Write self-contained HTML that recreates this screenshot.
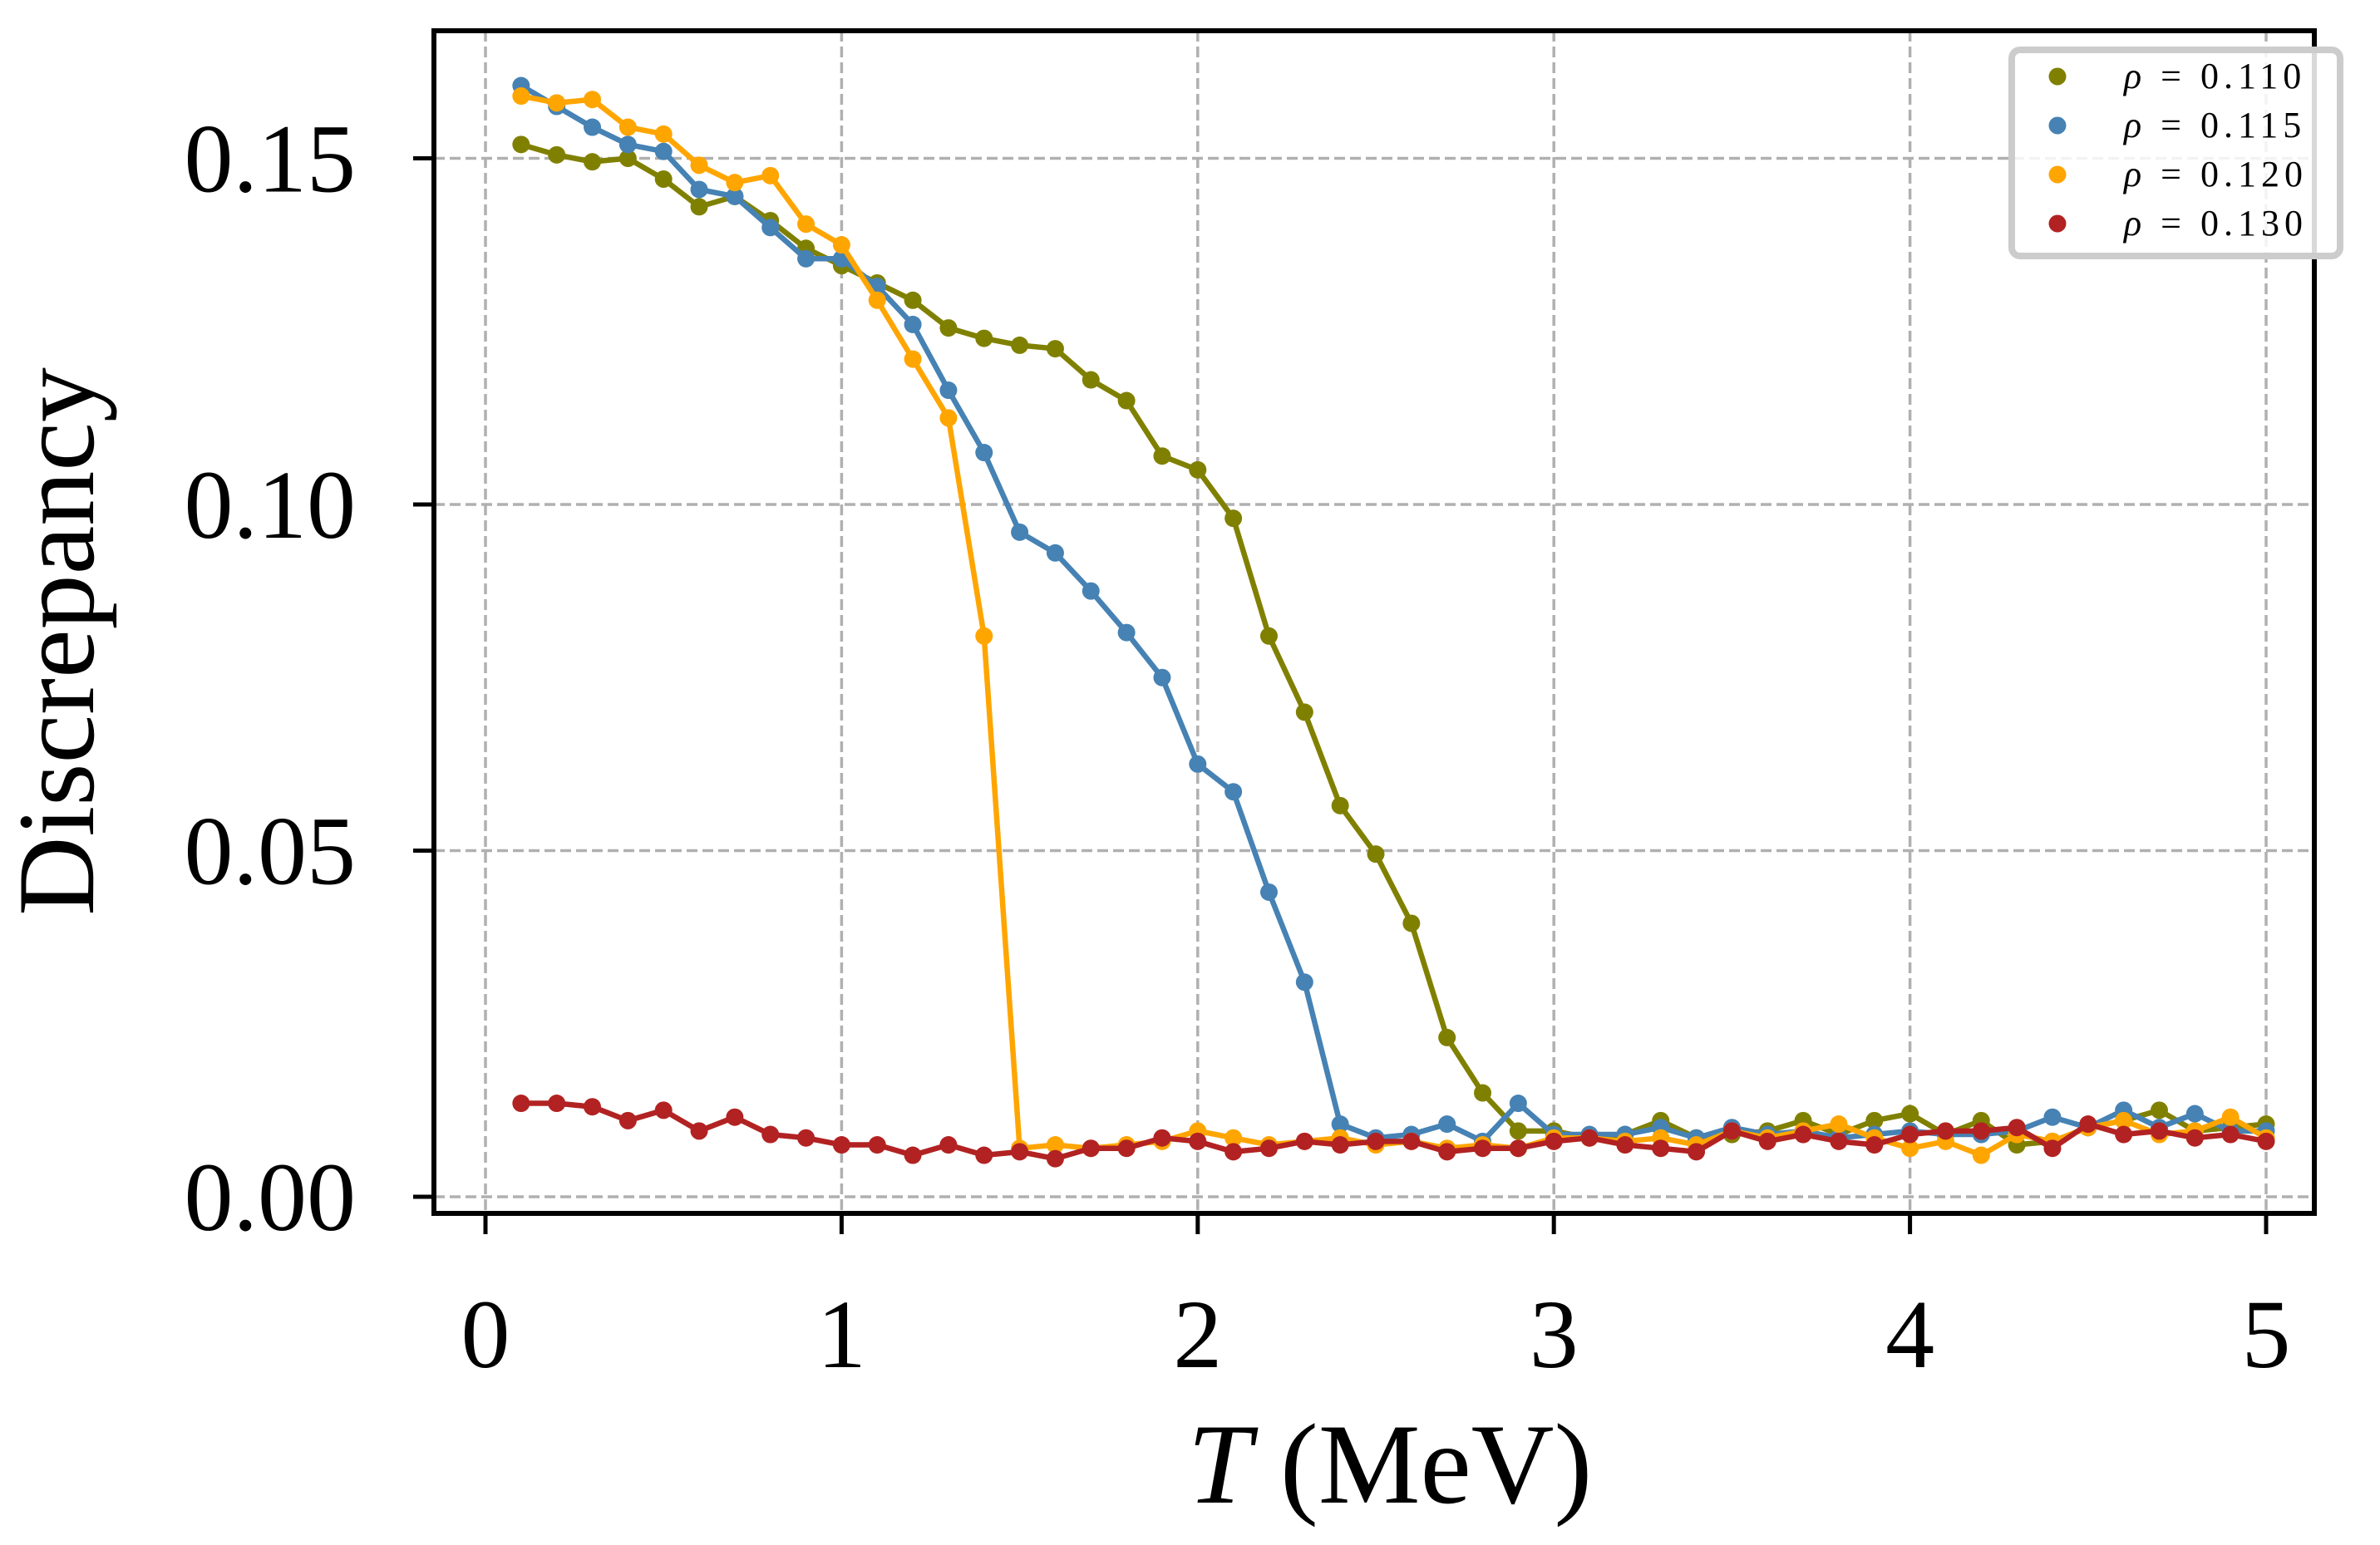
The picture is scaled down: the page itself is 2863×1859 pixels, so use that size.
<!DOCTYPE html>
<html><head><meta charset="utf-8"><style>
html,body{margin:0;padding:0;background:#fff;}
svg{display:block;font-family:"Liberation Serif","DejaVu Serif",serif;}
</style></head><body>
<svg id="chart" width="2863" height="1859" viewBox="0 0 2863 1859">
<rect x="0" y="0" width="2863" height="1859" fill="#fff"/>
<g id="grid"></g><g id="series"></g><g id="axes"></g><g id="legend"></g>
</svg>
<script>
const xs=[0.1,0.2,0.3,0.4,0.5,0.6,0.7,0.8,0.9,1.0,1.1,1.2,1.3,1.4,1.5,1.6,1.7,1.8,1.9,2.0,2.1,2.2,2.3,2.4,2.5,2.6,2.7,2.8,2.9,3.0,3.1,3.2,3.3,3.4,3.5,3.6,3.7,3.8,3.9,4.0,4.1,4.2,4.3,4.4,4.5,4.6,4.7,4.8,4.9,5.0];
const rho110=[0.152,0.1505,0.1495,0.150,0.147,0.143,0.1445,0.141,0.137,0.1345,0.132,0.1295,0.1255,0.124,0.123,0.1225,0.118,0.115,0.107,0.105,0.098,0.081,0.070,0.0565,0.0495,0.0395,0.023,0.015,0.0095,0.0095,0.0085,0.009,0.011,0.0085,0.009,0.0095,0.011,0.009,0.011,0.012,0.009,0.011,0.0075,0.008,0.010,0.011,0.0125,0.0095,0.010,0.0105];
const rho115=[0.1605,0.1575,0.1545,0.152,0.151,0.1455,0.1445,0.140,0.1355,0.1355,0.1315,0.126,0.1165,0.1075,0.096,0.093,0.0875,0.0815,0.075,0.0625,0.0585,0.044,0.031,0.0105,0.0085,0.009,0.0105,0.008,0.0135,0.009,0.009,0.009,0.010,0.0085,0.010,0.009,0.0095,0.0085,0.009,0.0095,0.009,0.009,0.0095,0.0115,0.010,0.0125,0.010,0.012,0.0095,0.0095];
const rho120=[0.159,0.158,0.1585,0.1545,0.1535,0.149,0.1465,0.1475,0.1405,0.1375,0.1295,0.121,0.1125,0.081,0.007,0.0075,0.007,0.0075,0.008,0.0095,0.0085,0.0075,0.008,0.0085,0.0075,0.008,0.007,0.0075,0.007,0.0085,0.0085,0.008,0.0085,0.0075,0.0095,0.0085,0.0095,0.0105,0.0085,0.007,0.008,0.006,0.009,0.008,0.010,0.011,0.009,0.0095,0.0115,0.0085];
const rho130=[0.0135,0.0135,0.013,0.011,0.0125,0.0095,0.0115,0.009,0.0085,0.0075,0.0075,0.006,0.0075,0.006,0.0065,0.0055,0.007,0.007,0.0085,0.008,0.0065,0.007,0.008,0.0075,0.008,0.008,0.0065,0.007,0.007,0.008,0.0085,0.0075,0.007,0.0065,0.0095,0.008,0.009,0.008,0.0075,0.009,0.0095,0.0095,0.010,0.007,0.0105,0.009,0.0095,0.0085,0.009,0.008];
const xTicks=[0,1,2,3,4,5];
const yTicks=[0,0.05,0.10,0.15];
const yTickLabels=["0.00","0.05","0.10","0.15"];
const seriesNames=["ρ = 0.110","ρ = 0.115","ρ = 0.120","ρ = 0.130"];

const NS="http://www.w3.org/2000/svg";
const L=522,R=2784,T=37,B=1460;
const sx=v=>584+v*428.4;
const sy=v=>1440-v*8330;
function mk(tag,attrs,parent,text){const e=document.createElementNS(NS,tag);for(const k in attrs)e.setAttribute(k,attrs[k]);if(text!==undefined)e.textContent=text;parent.appendChild(e);return e;}
const grid=document.getElementById('grid'),ser=document.getElementById('series'),ax=document.getElementById('axes'),lg=document.getElementById('legend');
xTicks.forEach(t=>{
 const g=mk('line',{x1:sx(t),x2:sx(t),y1:T,y2:B,stroke:'#b0b0b0','stroke-width':3.5,'stroke-dasharray':'13,6'},grid);
 
 
 const tk=mk('line',{x1:sx(t),x2:sx(t),y1:B,y2:B+25,stroke:'#000','stroke-width':5},ax);
 
 
 const lb=mk('text',{x:sx(t),y:1645,'font-size':118,'text-anchor':'middle'},ax,String(t));
 
 
});
yTicks.forEach((t,i)=>{
 const g=mk('line',{x1:L,x2:R,y1:sy(t),y2:sy(t),stroke:'#b0b0b0','stroke-width':3.5,'stroke-dasharray':'13,6'},grid);
 
 
 const tk=mk('line',{x1:L-25,x2:L,y1:sy(t),y2:sy(t),stroke:'#000','stroke-width':5},ax);
 
 
 const lb=mk('text',{x:428,y:sy(t)+40,'font-size':118,'text-anchor':'end'},ax,yTickLabels[i]);
 
 
});
const colors=['#808000','#4682b4','#ffa500','#b22222'];
[rho110,rho115,rho120,rho130].forEach((d,si)=>{
 const g=mk('g',{},ser);
 
 
 const p=mk('polyline',{points:xs.map((x,i)=>sx(x)+','+sy(d[i])).join(' '),fill:'none',stroke:colors[si],'stroke-width':6.5,'stroke-linejoin':'round'},g);
 
 
 xs.forEach((x,i)=>{
  const c=mk('circle',{cx:sx(x),cy:sy(d[i]),r:10.5,fill:colors[si]},g);
  
  
 });
});
const frame=mk('rect',{x:L,y:T,width:R-L,height:B-T,fill:'none',stroke:'#000','stroke-width':6},ax);


const xl=mk('text',{x:1672,y:1808,'font-size':138,'text-anchor':'middle'},ax);


xl.innerHTML='<tspan font-style="italic">T</tspan> (MeV)';
const yl=mk('text',{x:0,y:0,'font-size':132,'text-anchor':'middle',transform:'translate(112,772) rotate(-90)'},ax,'Discrepancy');


const box=mk('rect',{x:2420,y:60,width:395,height:248,rx:10,fill:'#fff','fill-opacity':0.85,stroke:'#cccccc','stroke-width':8},lg);


seriesNames.forEach((n,i)=>{
 const y=92+i*59;
 const g=mk('g',{},lg);
 
 
 mk('circle',{cx:2475,cy:y,r:10.5,fill:colors[i]},g);
 const t=mk('text',{x:2555,y:y+14,'font-size':44,'letter-spacing':6},g);
 t.innerHTML='<tspan font-style="italic">ρ</tspan> = 0.'+n.slice(-3);
});
</script>
</body></html>
